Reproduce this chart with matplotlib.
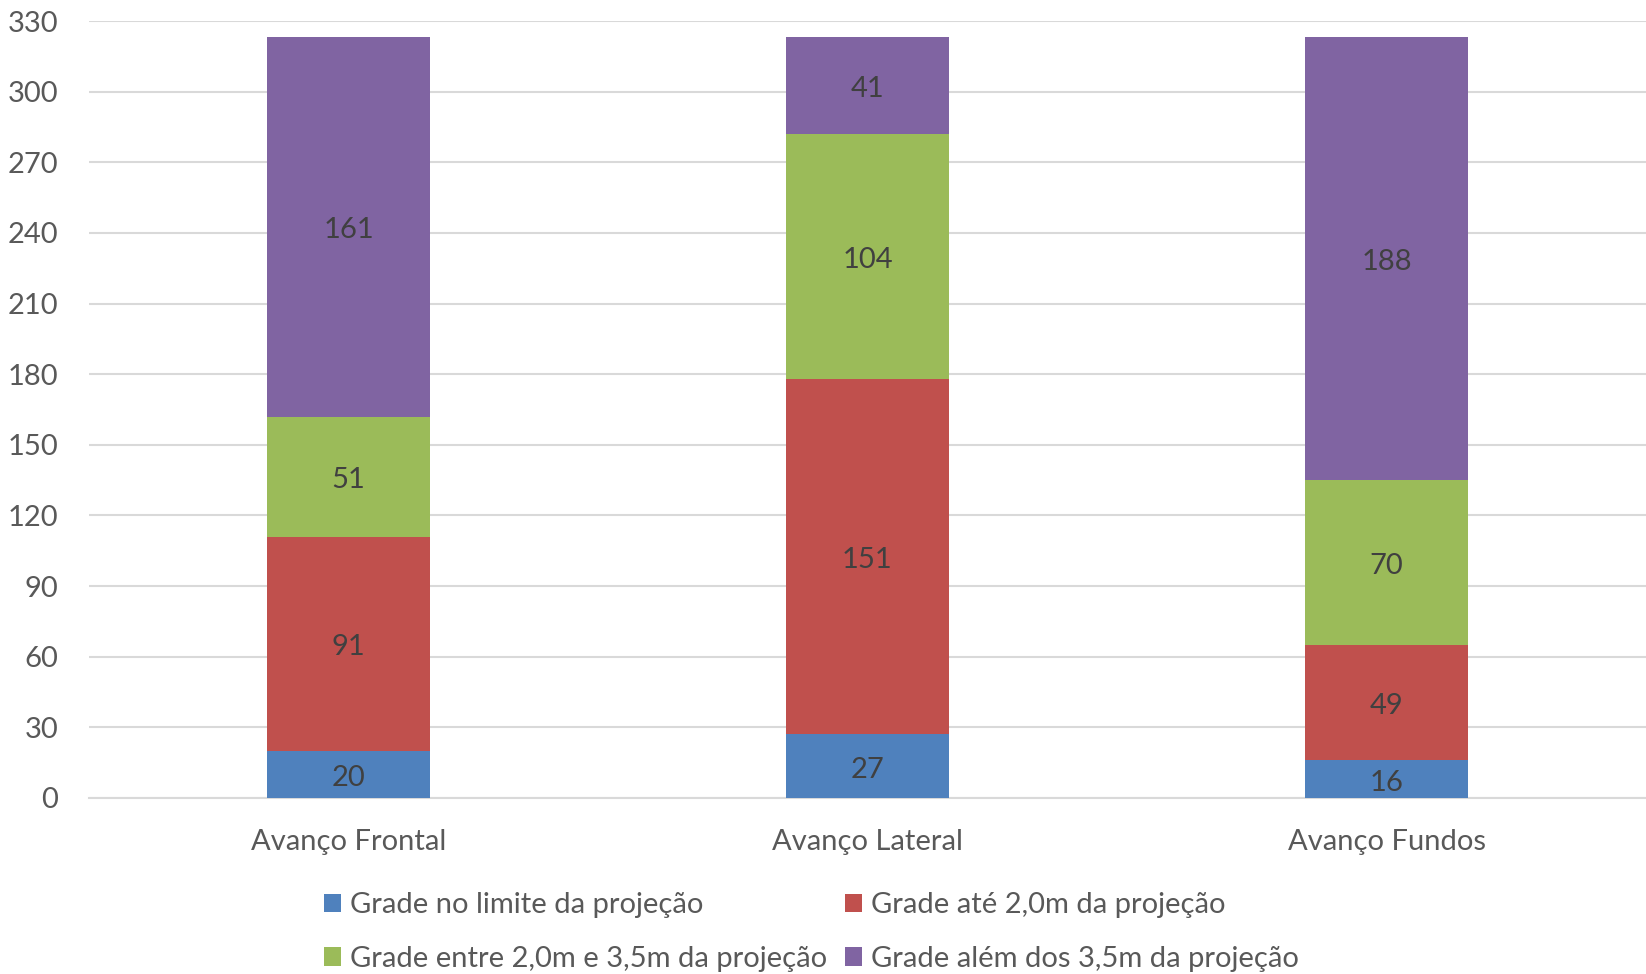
import matplotlib
matplotlib.use("Agg")
import matplotlib.pyplot as plt
import numpy as np

categories = ["Avanço Frontal", "Avanço Lateral", "Avanço Fundos"]
series_names = [
    "Grade no limite da projeção",
    "Grade até 2,0m da projeção",
    "Grade entre 2,0m e 3,5m da projeção",
    "Grade além dos 3,5m da projeção",
]
limite = [20, 27, 16]
ate_2m = [91, 151, 49]
entre_2_35 = [51, 104, 70]
alem_35 = [161, 41, 188]
colors = ["#4F81BD", "#C0504D", "#9BBB59", "#8064A2"]
yticks = list(range(0, 331, 30))

plt.rcParams['font.family'] = ['Lato', 'DejaVu Sans']

fig = plt.figure(figsize=(16.46, 9.74), dpi=100)
ax = fig.add_axes([89/1646, 1-798/974, 1-89/1646, (798-21)/974])

x = np.arange(len(categories))
bottom = np.zeros(len(categories))
handles = []
for name, vals, c in zip(series_names, [limite, ate_2m, entre_2_35, alem_35], colors):
    vals = np.array(vals, dtype=float)
    b = ax.bar(x, vals, 0.314, bottom=bottom, color=c, label=name, zorder=3)
    handles.append(b)
    for xi, v, bt in zip(x, vals, bottom):
        ax.annotate(f"{int(v)}", (xi, bt + v/2), xytext=(0, -2.5),
                    textcoords="offset points", ha="center", va="center",
                    fontsize=21, color="#404040", zorder=4)
    bottom += vals

ax.set_xlim(-0.5, 2.5)
ax.set_ylim(0, 330)
ax.set_yticks(yticks)
ax.set_xticks(x)
ax.set_xticklabels(categories)
ax.grid(axis="y", color="#D9D9D9", linewidth=1.5, zorder=0)
ax.set_axisbelow(True)
for s in ["top", "right", "left"]:
    ax.spines[s].set_visible(False)
ax.spines["bottom"].set_color("#D9D9D9")
ax.spines["bottom"].set_linewidth(1.5)
ax.tick_params(axis="both", length=0, labelsize=21, labelcolor="#595959")
ax.tick_params(axis="x", pad=22)
ax.tick_params(axis="y", pad=22)

order = [0, 2, 1, 3]
fig.legend(handles=[handles[i] for i in order], labels=[series_names[i] for i in order],
           loc="center", bbox_to_anchor=(0.493, 1 - 932/974), ncol=2, frameon=False,
           fontsize=21, labelcolor="#595959", handlelength=0.6, handleheight=0.6,
           handletextpad=0.3, columnspacing=0.6, labelspacing=0.95)

fig.savefig("out.png", dpi=100)
